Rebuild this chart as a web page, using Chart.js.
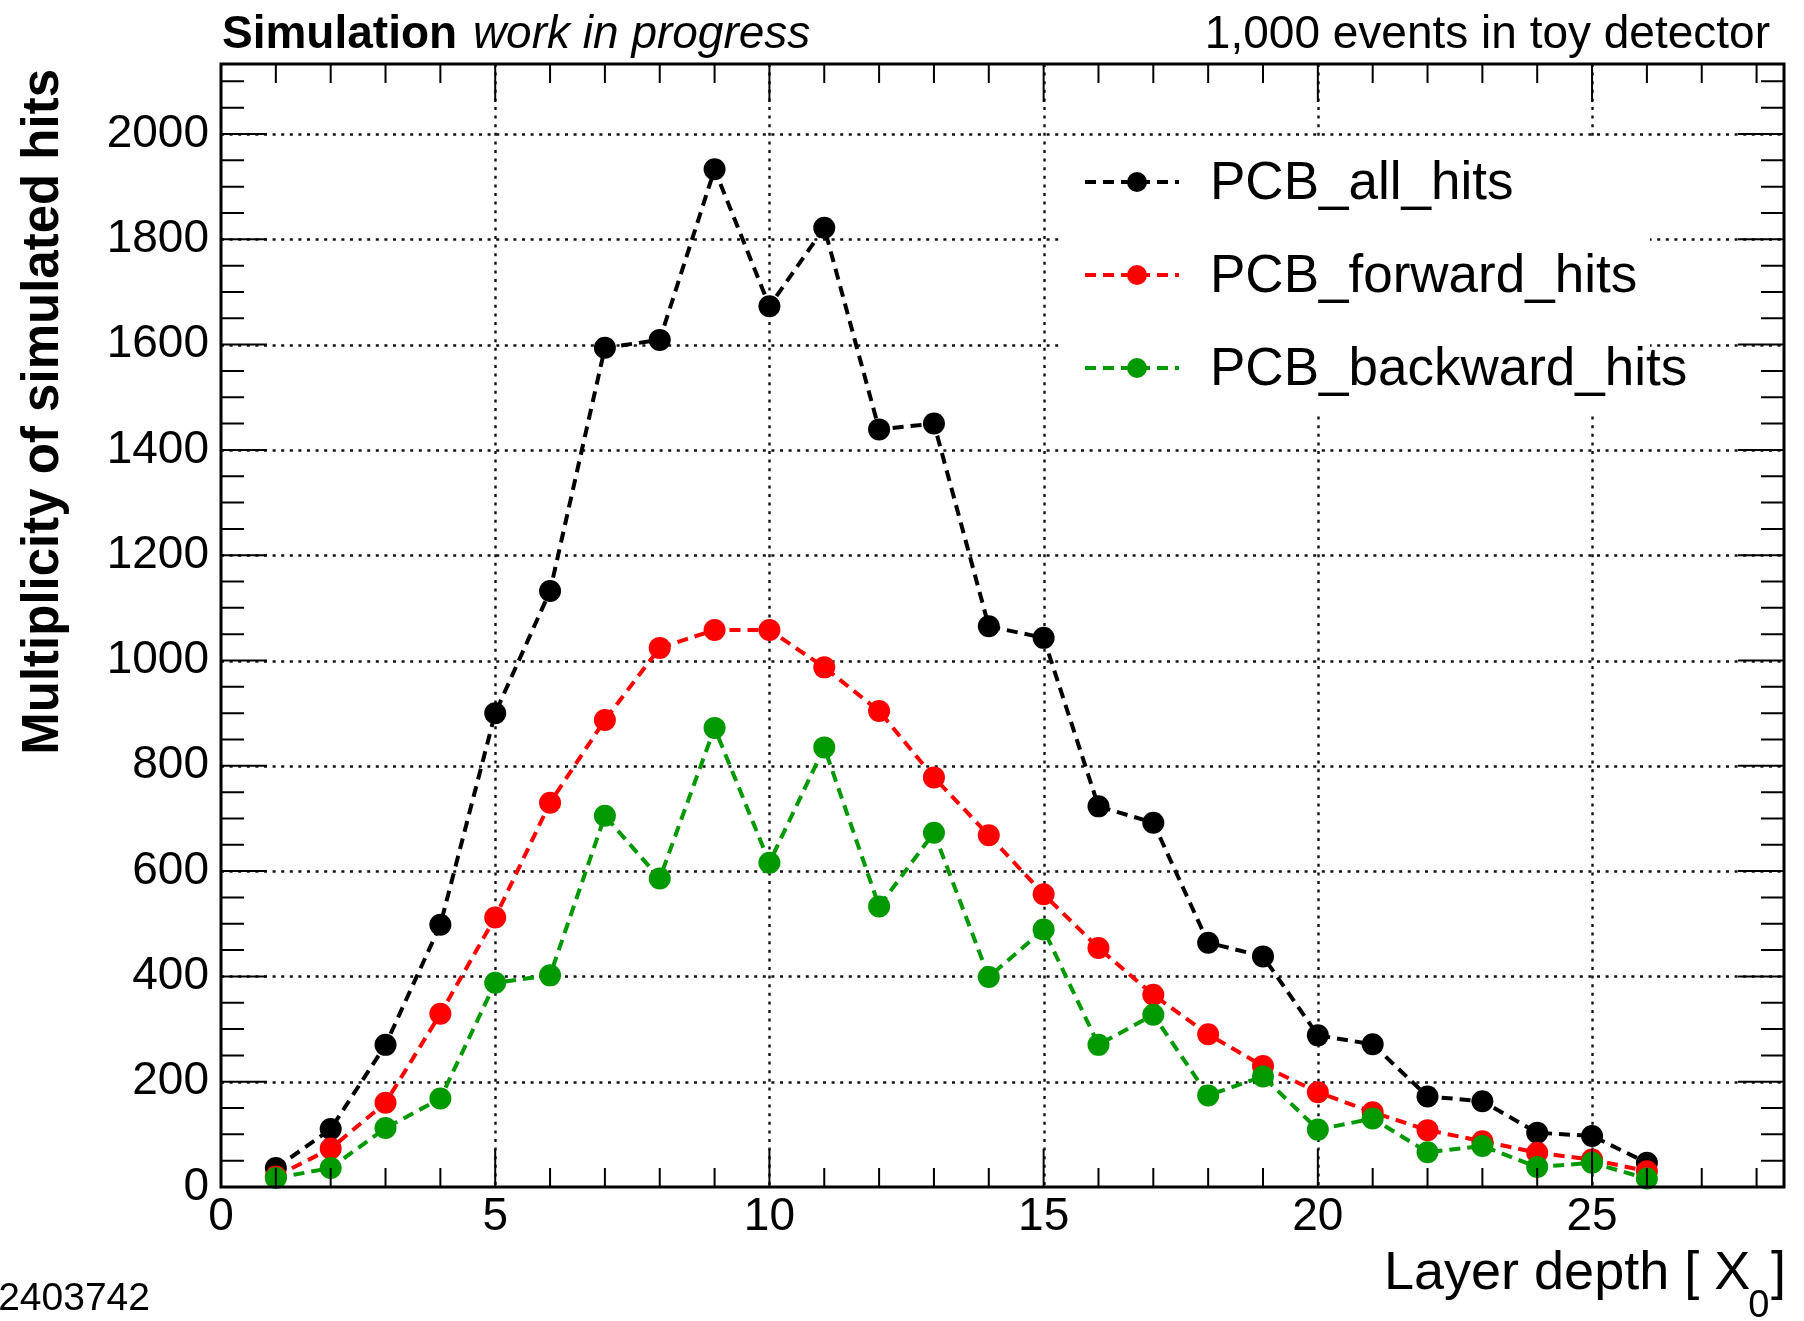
<!DOCTYPE html>
<html>
<head>
<meta charset="utf-8">
<script src="https://cdn.jsdelivr.net/npm/chart.js@4/dist/chart.umd.min.js"></script>
<style>
html,body{margin:0;padding:0;background:#fff;overflow:hidden}
#wrap{width:1804px;height:1321px;position:relative}
canvas{display:block}
</style>
</head>
<body>
<div id="wrap"><canvas id="c" width="1804" height="1321"></canvas></div>
<script>
// ---- data ----
const layers = [1,2,3,4,5,6,7,8,9,10,11,12,13,14,15,16,17,18,19,20,21,22,23,24,25,26];
const allHits      = [36,110,270,498,900,1132,1594,1609,1933,1673,1822,1439,1450,1065,1043,723,692,464,438,288,271,172,163,103,97,46];
const forwardHits  = [20,73,160,329,512,730,887,1024,1058,1058,987,904,778,668,556,454,365,290,230,180,142,108,87,65,52,30];
const backwardHits = [17,36,112,168,388,402,705,586,872,616,835,533,673,399,489,270,327,174,210,109,130,66,78,38,46,16];

const seriesNames  = ['PCB_all_hits', 'PCB_forward_hits', 'PCB_backward_hits'];
const seriesColors = ['#000000', '#ff0000', '#009900'];

const xTickLabels = [0, 5, 10, 15, 20, 25];
const yTickLabels = [0, 200, 400, 600, 800, 1000, 1200, 1400, 1600, 1800, 2000];
const xRange = [0, 28.5];
const yRange = [0, 2133];
const xMinorStep = 1;
const yMinorStep = 50;

const titleBold   = 'Simulation';
const titleItalic = 'work in progress';
const titleRight  = '1,000 events in toy detector';
const yTitle      = 'Multiplicity of simulated hits';
const xTitleMain  = 'Layer depth [ X';
const xTitleSub   = '0';
const xTitleTail  = ']';
const footnote    = '2403742';

const FONT = '"Liberation Sans", Arial, Helvetica, sans-serif';

// ---- ROOT-like decorations ----
const rootStyle = {
  id: 'rootStyle',
  beforeDatasetsDraw(chart) {
    const {ctx, chartArea: a, scales: {x, y}} = chart;
    ctx.save();
    ctx.strokeStyle = '#111';
    ctx.lineWidth = 2.4;
    ctx.setLineDash([3, 5.6]);
    xTickLabels.forEach(v => {
      if (v <= xRange[0] || v >= xRange[1]) return;
      const px = Math.round(x.getPixelForValue(v)) + 0.5;
      ctx.beginPath(); ctx.moveTo(px, a.top); ctx.lineTo(px, a.bottom); ctx.stroke();
    });
    yTickLabels.forEach(v => {
      if (v <= yRange[0] || v >= yRange[1]) return;
      const py = Math.round(y.getPixelForValue(v)) + 0.5;
      ctx.beginPath(); ctx.moveTo(a.left, py); ctx.lineTo(a.right, py); ctx.stroke();
    });
    ctx.restore();
    // legend box (white, covers grid)
    ctx.save();
    ctx.fillStyle = '#fff';
    ctx.fillRect(1062, 137, 588, 278);
    ctx.restore();
  },
  afterDatasetsDraw(chart) {
    const {ctx, chartArea: a, scales: {x, y}} = chart;
    ctx.save();
    ctx.setLineDash([]);
    ctx.strokeStyle = '#000';
    // ticks
    ctx.lineWidth = 2;
    const yMaj = 46, yMin = 23, xMaj = 38, xMin = 19;
    for (let v = yRange[0]; v <= yRange[1]; v += yMinorStep) {
      const py = y.getPixelForValue(v);
      const len = yTickLabels.includes(v) ? yMaj : yMin;
      ctx.beginPath();
      ctx.moveTo(a.left, py); ctx.lineTo(a.left + len, py);
      ctx.moveTo(a.right, py); ctx.lineTo(a.right - len, py);
      ctx.stroke();
    }
    for (let v = xRange[0]; v <= xRange[1]; v += xMinorStep) {
      const px = x.getPixelForValue(v);
      const len = xTickLabels.includes(v) ? xMaj : xMin;
      ctx.beginPath();
      ctx.moveTo(px, a.bottom); ctx.lineTo(px, a.bottom - len);
      ctx.moveTo(px, a.top); ctx.lineTo(px, a.top + len);
      ctx.stroke();
    }
    // frame
    ctx.lineWidth = 3;
    ctx.strokeRect(a.left, a.top, a.right - a.left, a.bottom - a.top);

    // legend entries
    const rowY = [182, 275, 368];
    chart.data.datasets.forEach((ds, i) => {
      const yy = rowY[seriesNames.indexOf(ds.label)];
      ctx.strokeStyle = ds.borderColor;
      ctx.lineWidth = ds.borderWidth;
      ctx.setLineDash(ds.borderDash);
      ctx.beginPath(); ctx.moveTo(1085, yy); ctx.lineTo(1179, yy); ctx.stroke();
      ctx.setLineDash([]);
      ctx.fillStyle = ds.pointBackgroundColor;
      ctx.beginPath(); ctx.arc(1137, yy, 10, 0, Math.PI * 2); ctx.fill();
      ctx.fillStyle = '#000';
      ctx.font = '53px ' + FONT;
      ctx.textAlign = 'left';
      ctx.textBaseline = 'middle';
      ctx.fillText(ds.label, 1210, yy + 2);
    });

    // texts
    ctx.fillStyle = '#000';
    ctx.textBaseline = 'alphabetic';
    ctx.textAlign = 'left';
    ctx.font = 'bold 46px ' + FONT;
    ctx.fillText(titleBold, 222, 48);
    const wb = ctx.measureText(titleBold + ' ').width;
    ctx.font = 'italic 46px ' + FONT;
    ctx.fillText(titleItalic, 222 + wb + 3, 48);
    ctx.font = '46px ' + FONT;
    ctx.textAlign = 'right';
    ctx.fillText(titleRight, 1770, 48);

    // y title
    ctx.save();
    ctx.translate(58, 69);
    ctx.rotate(-Math.PI / 2);
    ctx.textAlign = 'right';
    ctx.font = 'bold 51px ' + FONT;
    ctx.fillText(yTitle, 0, 0);
    ctx.restore();

    // x title
    ctx.textAlign = 'left';
    ctx.font = '54px ' + FONT;
    ctx.fillText(xTitleMain, 1384, 1289);
    const wm = ctx.measureText(xTitleMain).width;
    ctx.font = '38px ' + FONT;
    ctx.fillText(xTitleSub, 1384 + wm - 2, 1317);
    ctx.font = '54px ' + FONT;
    ctx.textAlign = 'right';
    ctx.fillText(xTitleTail, 1786, 1289);

    // footnote
    ctx.font = '39px ' + FONT;
    ctx.textAlign = 'right';
    ctx.fillText(footnote, 150, 1310);
    ctx.restore();
  }
};

const mk = (name, values, color, order) => ({
  label: name,
  data: layers.map((l, i) => ({x: l, y: values[i]})),
  borderColor: color,
  backgroundColor: color,
  pointBackgroundColor: color,
  pointBorderWidth: 0,
  pointRadius: 11,
  borderWidth: 4,
  borderDash: [11, 7],
  tension: 0,
  fill: false,
  clip: false,
  order: order
});

new Chart(document.getElementById('c'), {
  type: 'line',
  data: {
    datasets: [
      mk(seriesNames[0], allHits, seriesColors[0], 2),
      mk(seriesNames[1], forwardHits, seriesColors[1], 1),
      mk(seriesNames[2], backwardHits, seriesColors[2], 0)
    ]
  },
  options: {
    responsive: false,
    animation: false,
    devicePixelRatio: 1,
    layout: {padding: {left: 0, right: 20, top: 64, bottom: 0}},
    plugins: {legend: {display: false}, tooltip: {enabled: false}},
    scales: {
      x: {
        type: 'linear', position: 'bottom', min: xRange[0], max: xRange[1],
        afterBuildTicks: s => { s.ticks = xTickLabels.map(v => ({value: v})); },
        afterFit: s => { s.height = 134; },
        grid: {display: false, drawTicks: false},
        border: {display: false},
        ticks: {autoSkip: false, maxRotation: 0, minRotation: 0, padding: 3, color: '#000',
                font: {family: FONT, size: 46}, callback: v => String(v)}
      },
      y: {
        type: 'linear', position: 'left', min: yRange[0], max: yRange[1],
        afterBuildTicks: s => { s.ticks = yTickLabels.map(v => ({value: v})); },
        afterFit: s => { s.width = 221; },
        grid: {display: false, drawTicks: false},
        border: {display: false},
        ticks: {autoSkip: false, padding: 12, color: '#000',
                font: {family: FONT, size: 46}, callback: v => String(v)}
      }
    }
  },
  plugins: [rootStyle]
});
</script>
</body>
</html>
